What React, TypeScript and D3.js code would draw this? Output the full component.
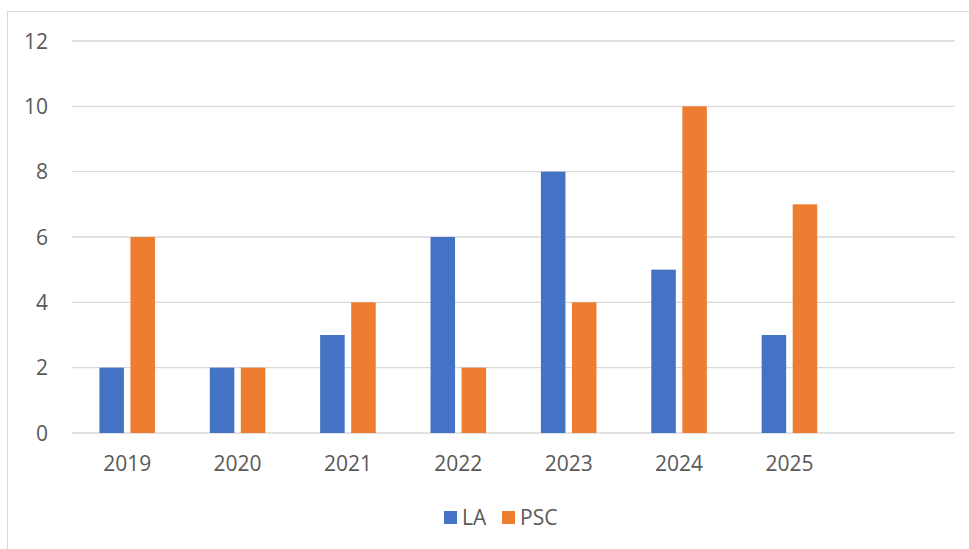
import React, { useEffect, useRef } from 'react'
import * as d3 from 'd3'

const years = ['2019', '2020', '2021', '2022', '2023', '2024', '2025']
const laValues = [2, 2, 3, 6, 8, 5, 3]
const pscValues = [6, 2, 4, 2, 4, 10, 7]
const seriesNames = ['LA', 'PSC']
const yTicks = [0, 2, 4, 6, 8, 10, 12]

export default function App() {
    const svgRef = useRef<SVGSVGElement>(null)

    const width = 969
    const height = 549

    useEffect(() => {
        const colors = ['#4472C4', '#ED7D31']
        const font = '"Open Sans", "Liberation Sans", Arial, sans-serif'
        const textColor = '#595959'

        const svg = d3.select(svgRef.current).attr('width', width).attr('height', height)
        svg.selectAll('*').remove()

        // chart frame (right and bottom edges are off the picture)
        svg.append('rect')
            .attr('x', 7.5).attr('y', 11.5)
            .attr('width', 980).attr('height', 560)
            .attr('fill', '#fff').attr('stroke', '#D9D9D9')

        // an empty eighth slot, as in the source chart
        const x0 = d3.scaleBand().domain([...years, '']).range([72, 955])
        const x1 = d3.scaleBand().domain(seriesNames)
            .range([27.4, x0.bandwidth() - 27.4]).paddingInner(0.21)
        const y = d3.scaleLinear().domain([0, 12]).range([433, 41])

        svg.append('g').selectAll('line').data(yTicks).enter().append('line')
            .attr('x1', 72).attr('x2', 955)
            .attr('y1', d => y(d)).attr('y2', d => y(d))
            .attr('stroke', '#D9D9D9').attr('stroke-width', 1.3)

        svg.append('g').selectAll('text').data(yTicks).enter().append('text')
            .attr('x', 48).attr('y', d => y(d) + 7.5)
            .attr('text-anchor', 'end')
            .attr('font-family', font).attr('font-size', 21).attr('fill', textColor)
            .text(d => d)

        const rows = years.map((yr, i) => ({ yr, vals: [laValues[i], pscValues[i]] }))

        const groups = svg.append('g').selectAll('g').data(rows).enter().append('g')
            .attr('transform', d => `translate(${x0(d.yr)},0)`)

        groups.selectAll('rect').data(d => d.vals).enter().append('rect')
            .attr('x', (d, i) => x1(seriesNames[i]))
            .attr('width', x1.bandwidth())
            .attr('y', d => y(d))
            .attr('height', d => y(0) - y(d))
            .attr('fill', (d, i) => colors[i])

        svg.append('g').selectAll('text').data(years).enter().append('text')
            .attr('x', d => x0(d) + x0.bandwidth() / 2)
            .attr('y', 471)
            .attr('text-anchor', 'middle')
            .attr('font-family', font).attr('font-size', 21).attr('fill', textColor)
            .text(d => d)

        // legend
        const legendX = [444, 502]
        const legend = svg.append('g').selectAll('g').data(seriesNames).enter().append('g')
            .attr('transform', (d, i) => `translate(${legendX[i]},511)`)
        legend.append('rect').attr('width', 13).attr('height', 13).attr('fill', (d, i) => colors[i])
        legend.append('text')
            .attr('x', 18).attr('y', 14)
            .attr('font-family', font).attr('font-size', 21).attr('fill', textColor)
            .text(d => d)
    }, [])

    return <svg ref={svgRef} style={{ position: 'absolute', left: 0, top: 0 }} />
}
